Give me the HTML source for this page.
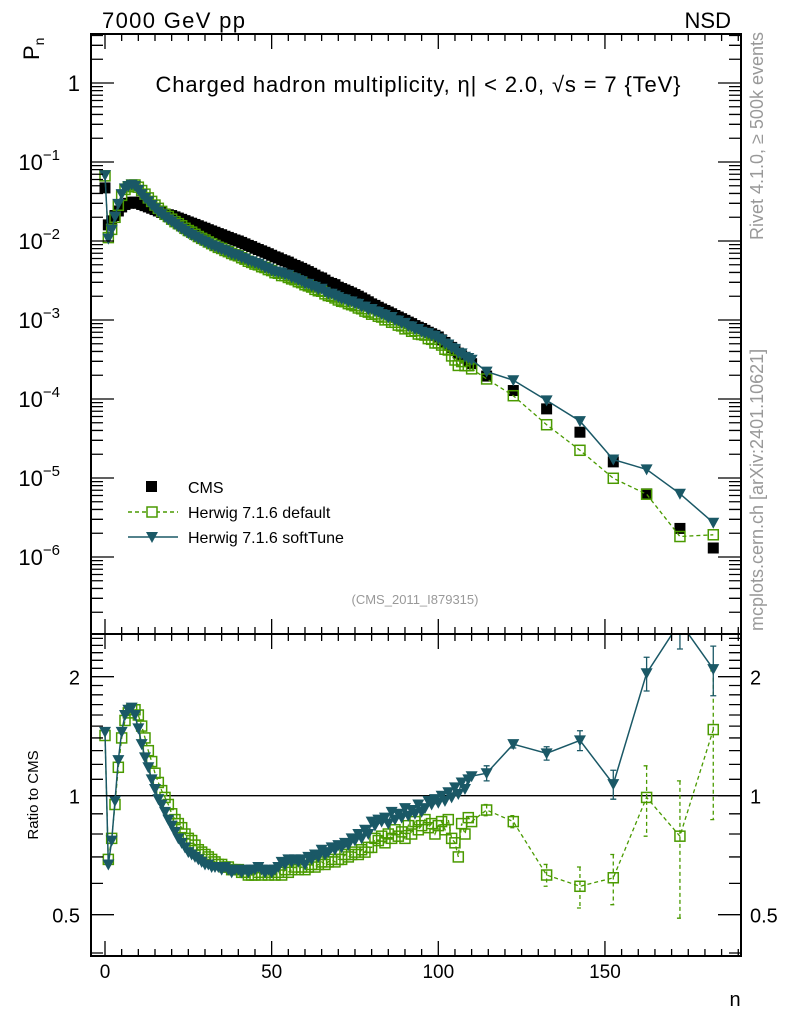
<!DOCTYPE html>
<html><head><meta charset="utf-8"><style>
html,body{margin:0;padding:0;background:#fff;}
svg{display:block;font-family:"Liberation Sans",sans-serif;}
</style></head><body>
<svg id="plot" width="786" height="1024" viewBox="0 0 786 1024">
<g id="marks"></g>
<g id="axes"></g>
<text x="102" y="28" font-size="22" textLength="143">7000 GeV pp</text>
<text x="731" y="28" font-size="22" text-anchor="end">NSD</text>
<text x="418" y="92" font-size="22" text-anchor="middle" textLength="525">Charged hadron multiplicity, η| &lt; 2.0, √s = 7 {TeV}</text>
<text transform="translate(39,60) rotate(-90)" font-size="22">P<tspan font-size="14" dy="5">n</tspan></text>
<text transform="translate(38,795) rotate(-90)" font-size="15" text-anchor="middle">Ratio to CMS</text>
<text x="735" y="1006" font-size="20" text-anchor="middle">n</text>
<text transform="translate(763,32) rotate(-90)" font-size="18" fill="#999" text-anchor="end">Rivet 4.1.0, ≥ 500k events</text>
<text transform="translate(763,631) rotate(-90)" font-size="18" fill="#999">mcplots.cern.ch [arXiv:2401.10621]</text>
<text x="415" y="604" font-size="13" fill="#999" text-anchor="middle">(CMS_2011_I879315)</text>
<g>
<rect x="146" y="481" width="11" height="11" fill="#000"/>
<text x="188" y="493" font-size="16">CMS</text>
<line x1="128" y1="512" x2="178" y2="512" stroke="#4a9a00" stroke-width="1.5" stroke-dasharray="4,3"/>
<rect x="147" y="507" width="10" height="10" fill="#fff" stroke="#4a9a00" stroke-width="1.5"/>
<text x="188" y="518" font-size="16">Herwig 7.1.6 default</text>
<line x1="128" y1="537" x2="178" y2="537" stroke="#1a5866" stroke-width="1.5"/>
<path d="M146,532 L158,532 L152,543 Z" fill="#1a5866"/>
<text x="188" y="543" font-size="16">Herwig 7.1.6 softTune</text>
</g>
</svg>
<script>
const nDense = Array.from({length:111},(_,i)=>i);
const nWide = [114.5,122.5,132.5,142.5,152.5,162.5,172.5,182.5];
const cmsDense = [.047,.016,.018,.021,.024,.027,.029,.030,.031,.031,.030,.029,.028,.027,.026,.025,.024,.023,.022,.0215,.021,
.0202,.0195,.0188,.0181,.0174,.0168,.0162,.0156,.0150,.0145,.0139,.0134,.0129,.0124,.0120,.0115,.0111,.0107,.0103,.0100,
.0096,.0092,.0088,.0085,.0081,.0078,.0075,.0072,.0069,.0066,.0063,.0061,.0058,.0056,.0054,.0051,.0049,.0047,.0045,.0043,
.0041,.0039,.0037,.0035,.0034,.0032,.0030,.0029,.0028,.0026,.0025,.0024,.0023,.0022,.0021,.0020,.0019,.0018,.0017,.0016,
.00153,.00145,.00138,.00132,.00126,.0012,.00114,.00109,.00104,.00099,.00094,.0009,.00085,.00081,.00078,.00074,.0007,.00067,.00064,.00061,
.00056,.00052,.00048,.00045,.00041,.00038,.00035,.00033,.0003,.00028];
const cmsWide = [1.95e-4,1.28e-4,7.5e-5,3.8e-5,1.6e-5,6.3e-6,2.3e-6,1.3e-6];
const softDense = [1.45,.67,.77,.97,1.23,1.45,1.6,1.65,1.67,1.6,1.48,1.35,1.25,1.18,1.1,1.04,.98,.95,.91,.87,
.84,.81,.78,.76,.74,.72,.71,.70,.69,.68,.67,.67,.66,.66,.66,.65,.66,.65,.64,.65,.65,.64,.65,.64,.65,.65,.66,.65,.64,.65,
.64,.65,.66,.68,.67,.69,.68,.69,.68,.69,.67,.70,.69,.71,.70,.73,.71,.72,.74,.73,.75,.74,.76,.75,.78,.77,.80,.78,.82,.80,.86,
.84,.87,.86,.88,.85,.91,.87,.90,.88,.93,.89,.92,.90,.95,.91,.93,.97,.95,.98,.96,1.0,.97,1.02,.99,1.05,1.01,1.08,1.04,1.1,1.12];
const softWide = [1.14,1.35,1.28,1.38,1.07,2.04,2.75,2.09];
const softWideErr = [.05,.03,.05,.08,.09,.2,.4,.3];
const defDense = [1.42,.69,.78,.95,1.18,1.4,1.55,1.62,1.65,1.65,1.6,1.5,1.4,1.3,1.22,1.14,1.08,1.03,.99,.95,
.90,.87,.85,.83,.80,.78,.77,.75,.73,.72,.71,.70,.69,.68,.67,.67,.66,.66,.65,.65,.65,.64,.64,.63,.63,.63,.64,.63,.64,.63,
.64,.63,.64,.63,.65,.64,.65,.66,.65,.66,.65,.66,.67,.66,.67,.68,.67,.68,.69,.68,.69,.69,.71,.70,.71,.72,.71,.73,.72,.74,.74,
.78,.77,.79,.76,.80,.78,.82,.79,.81,.78,.84,.80,.86,.82,.84,.87,.83,.85,.80,.84,.86,.82,.87,.78,.76,.70,.85,.80,.88,.86];
const defWide = [.92,.86,.63,.59,.62,.99,.79,1.47];
const defWideErr = [.03,.03,.04,.07,.09,.2,.3,.6];
const xTicks = [0,50,100,150];
const mainTickExps = [0,-1,-2,-3,-4,-5,-6];
const ratioTicks = [2,1,0.5];

const NS='http://www.w3.org/2000/svg';
const L=91,R=741,T=34,M=634,B=956;
const X=n=>105+n*3.333;
const Y=p=>83-79*Math.log10(p);
const YR=r=>795.7-119*Math.log2(r);
const marks=document.getElementById('marks'), axes=document.getElementById('axes');
function el(tag,attrs,parent){const e=document.createElementNS(NS,tag);for(const k in attrs)e.setAttribute(k,attrs[k]);parent.appendChild(e);return e;}
const GREEN='#4a9a00', BLUE='#1a5866';
const nAll=nDense.concat(nWide), cmsAll=cmsDense.concat(cmsWide);
const softAll=softDense.concat(softWide), defAll=defDense.concat(defWide);

const defs=el('defs',{},marks);
const c1=el('clipPath',{id:'cm'},defs); el('rect',{x:L,y:T,width:R-L,height:M-T},c1);
const c2=el('clipPath',{id:'cr'},defs); el('rect',{x:L,y:M,width:R-L,height:B-M},c2);
const gm=el('g',{'clip-path':'url(#cm)'},marks);


const gr=el('g',{'clip-path':'url(#cr)'},marks);



function sq(g,x,y,name){const r=el('rect',{x:x-5,y:y-5,width:10,height:10,fill:'none',stroke:GREEN,'stroke-width':1.5},g);

}
function tri(g,x,y,name){const p=el('path',{d:`M${x-6},${y-5} L${x+6},${y-5} L${x},${y+6} Z`,fill:BLUE},g);

}

nAll.forEach((n,i)=>{const r=el('rect',{x:X(n)-5.5,y:Y(cmsAll[i])-5.5,width:11,height:11,fill:'#000'},gm);

});
let d=nAll.map((n,i)=>(i?'L':'M')+X(n).toFixed(1)+','+Y(cmsAll[i]*defAll[i]).toFixed(1)).join(' ');
let pl=el('path',{d:d,fill:'none',stroke:GREEN,'stroke-width':1.3,'stroke-dasharray':'4,3'},gm);


nAll.forEach((n,i)=>sq(gm,X(n),Y(cmsAll[i]*defAll[i]),'default-point'));
d=nAll.map((n,i)=>(i?'L':'M')+X(n).toFixed(1)+','+Y(cmsAll[i]*softAll[i]).toFixed(1)).join(' ');
pl=el('path',{d:d,fill:'none',stroke:BLUE,'stroke-width':1.5},gm);


nAll.forEach((n,i)=>tri(gm,X(n),Y(cmsAll[i]*softAll[i]),'softtune-point'));

let ref=el('line',{x1:L,x2:R,y1:YR(1),y2:YR(1),stroke:'#000','stroke-width':1.3},gr);


d=nAll.map((n,i)=>(i?'L':'M')+X(n).toFixed(1)+','+YR(defAll[i]).toFixed(1)).join(' ');
pl=el('path',{d:d,fill:'none',stroke:GREEN,'stroke-width':1.3,'stroke-dasharray':'4,3'},gr);


nWide.forEach((n,i)=>{const e=el('path',{d:`M${X(n)},${YR(defWide[i]+defWideErr[i])} V${YR(Math.max(0.05,defWide[i]-defWideErr[i]))} M${X(n)-3},${YR(defWide[i]+defWideErr[i])} h6 M${X(n)-3},${YR(Math.max(0.05,defWide[i]-defWideErr[i]))} h6`,stroke:GREEN,'stroke-width':1.3,'stroke-dasharray':'4,3',fill:'none'},gr);

});
nAll.forEach((n,i)=>sq(gr,X(n),YR(defAll[i]),'default-ratio-point'));
d=nAll.map((n,i)=>(i?'L':'M')+X(n).toFixed(1)+','+YR(softAll[i]).toFixed(1)).join(' ');
pl=el('path',{d:d,fill:'none',stroke:BLUE,'stroke-width':1.5},gr);


nWide.forEach((n,i)=>{const e=el('path',{d:`M${X(n)},${YR(softWide[i]+softWideErr[i])} V${YR(softWide[i]-softWideErr[i])} M${X(n)-3},${YR(softWide[i]+softWideErr[i])} h6 M${X(n)-3},${YR(softWide[i]-softWideErr[i])} h6`,stroke:BLUE,'stroke-width':1.3,fill:'none'},gr);

});
nAll.forEach((n,i)=>tri(gr,X(n),YR(softAll[i]),'softtune-ratio-point'));

[[T,M],[M,B]].forEach(([a,b],k)=>{const f=el('rect',{x:L,y:a,width:R-L,height:b-a,fill:'none',stroke:'#000','stroke-width':2},axes);

});
let td='';
for(let n=0;n<=190;n+=5){const x=X(n);if(x>R)break;const len=n%50===0?15:7;
[T,M].forEach(y=>{td+=`M${x},${y} v${len} `;});
[M,B].forEach(y=>{td+=`M${x},${y} v${-len} `;});}
for(let e=1;e>=-7;e--){for(let m=1;m<10;m++){const y=Y(m*Math.pow(10,e));if(y<T||y>M)continue;const len=m===1?23:12;td+=`M${L},${y} h${len} M${R},${y} h${-len} `;}}
for(let r=0.4;r<=2.6;r+=0.1){const y=YR(r);if(y<M||y>B)continue;const maj=Math.abs(r-0.5)<1e-6||Math.abs(r-1)<1e-6||Math.abs(r-2)<1e-6;const len=maj?23:12;td+=`M${L},${y} h${len} M${R},${y} h${-len} `;}
const tk=el('path',{d:td,stroke:'#000','stroke-width':1.3,fill:'none'},axes);


xTicks.forEach(v=>{const t=el('text',{x:X(v),y:978,'font-size':19,'text-anchor':'middle'},axes);t.textContent=v;

});
mainTickExps.forEach(e=>{const y=Y(Math.pow(10,e));const t=el('text',{x:e===0?80:60,y:y+8,'font-size':22,'text-anchor':'end'},axes);


if(e===0)t.textContent='1';else{t.textContent='10';const s=el('tspan',{dy:-10,'font-size':15},t);s.textContent='−'+(-e);}});
ratioTicks.forEach(r=>{const y=YR(r);[[80,'end'],[750,'start']].forEach(([x,a])=>{const t=el('text',{x:x,y:y+8,'font-size':20,'text-anchor':a},axes);t.textContent=String(r);

});});
</script>
</body></html>
